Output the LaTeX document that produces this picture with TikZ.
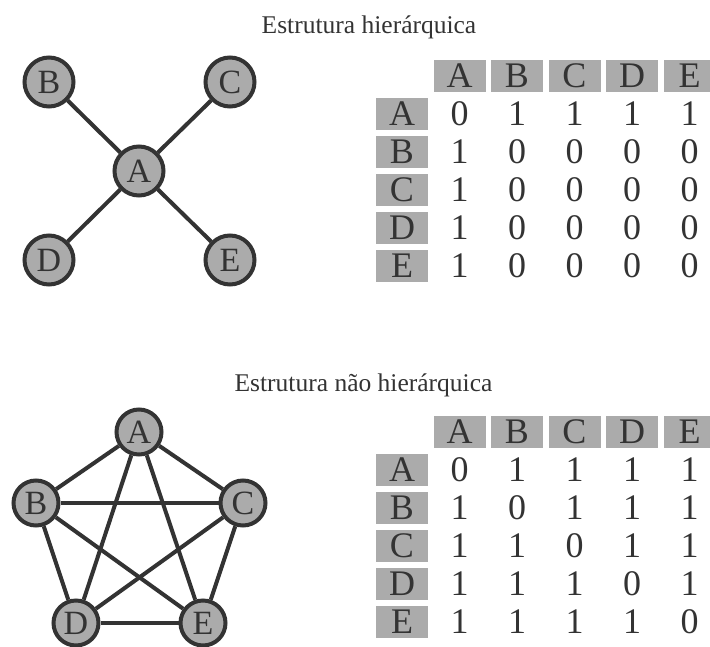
\documentclass[tikz,border=0pt]{standalone}
\usepackage{fontspec}
\setmainfont{Liberation Serif}
\definecolor{ink}{HTML}{333333}
\definecolor{cellgray}{HTML}{ABABAB}
\begin{document}
\begin{tikzpicture}[x=1pt,y=-1pt,
  vtx/.style={circle,draw=ink,fill=cellgray,line width=4pt,inner sep=0pt,text=ink,font=\fontsize{34}{34}\selectfont},
  bigv/.style={vtx,minimum size=49pt},
  smallv/.style={vtx,minimum size=45pt},
  link/.style={draw=ink,line width=4pt},
  val/.style={minimum width=52pt,minimum height=32pt,inner sep=0pt,text=ink,
    font=\fontsize{36}{36}\selectfont,text height=23.5pt,text depth=0pt},
  cell/.style={val,fill=cellgray},
  title/.style={text=ink,font=\fontsize{25.5}{25.5}\selectfont,inner sep=0pt,anchor=base}]
\useasboundingbox (0,0) rectangle (710,646);
\clip (0,0) rectangle (710,646);

% titles
\node[title] (t1) at (369,33.5) {Estrutura hierárquica};
\node[title] (t2) at (363.5,391) {Estrutura não hierárquica};

% top graph
\node[bigv] (A) at (139,171) {A};
\node[bigv] (B) at (49,82) {B};
\node[bigv] (C) at (230,82) {C};
\node[bigv] (D) at (49,260) {D};
\node[bigv] (E) at (230,260) {E};
\draw[link] (A) -- (B);
\draw[link] (A) -- (C);
\draw[link] (A) -- (D);
\draw[link] (A) -- (E);

% bottom graph
\node[smallv] (a) at (139,432) {A};
\node[smallv] (b) at (36,503) {B};
\node[smallv] (c) at (243,503) {C};
\node[smallv] (d) at (76,623) {D};
\node[smallv] (e) at (203,623) {E};
\foreach \p/\q in {a/b,a/c,a/d,a/e,b/c,b/d,b/e,c/d,c/e,d/e}
  \draw[link] (\p) -- (\q);

% top matrix
\foreach \c [count=\j] in {A,B,C,D,E}
  \node[cell] (th\c) at (402+57.5*\j,76) {\c};
\foreach \r/\vals [count=\i] in {A/{0,1,1,1,1},B/{1,0,0,0,0},C/{1,0,0,0,0},D/{1,0,0,0,0},E/{1,0,0,0,0}}{
  \node[cell] (tr\r) at (402,76+38*\i) {\r};
  \foreach \v [count=\j] in \vals
    \node[val] (t\r\j) at (402+57.5*\j,76+38*\i) {\v};
}

% bottom matrix
\foreach \c [count=\j] in {A,B,C,D,E}
  \node[cell] (bh\c) at (402+57.5*\j,432) {\c};
\foreach \r/\vals [count=\i] in {A/{0,1,1,1,1},B/{1,0,1,1,1},C/{1,1,0,1,1},D/{1,1,1,0,1},E/{1,1,1,1,0}}{
  \node[cell] (br\r) at (402,432+38*\i) {\r};
  \foreach \v [count=\j] in \vals
    \node[val] (b\r\j) at (402+57.5*\j,432+38*\i) {\v};
}
\end{tikzpicture}
\end{document}
